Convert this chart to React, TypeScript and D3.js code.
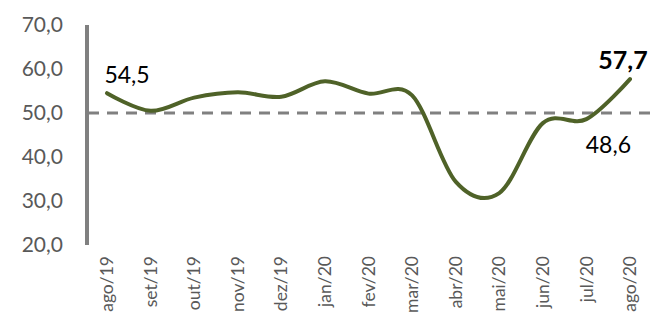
import { useRef, useEffect } from 'react';
import * as d3 from 'd3';

const LINE_COLOR = '#4F6228';
const AXIS_COLOR = '#808080';
const TEXT_COLOR = '#595959';
const FONT = 'Lato, "Open Sans", sans-serif';

const months = [
  'ago/19', 'set/19', 'out/19', 'nov/19', 'dez/19', 'jan/20', 'fev/20',
  'mar/20', 'abr/20', 'mai/20', 'jun/20', 'jul/20', 'ago/20',
];
const values = [54.5, 50.5, 53.5, 54.7, 53.7, 57.2, 54.4, 54.0, 34.4, 31.8, 47.7, 48.6, 57.7];
const yTicks = [20, 30, 40, 50, 60, 70];
const refValue = 50;

const W = 662;
const H = 312;

const fmt = (v: number) => d3.format('.1f')(v).replace('.', ',');

const App = () => {
  const svgRef = useRef<SVGSVGElement>(null);

  useEffect(() => {
    const svg = d3.select(svgRef.current);
    svg.selectAll('*').remove();

    const x = d3.scalePoint().domain(months).range([107, 630]);
    const y = d3.scaleLinear().domain([20, 70]).range([245, 25]);

    // y tick labels
    svg
      .append('g')
      .selectAll('text')
      .data(yTicks)
      .join('text')
      .attr('x', 63)
      .attr('y', (d) => y(d))
      .attr('dy', '0.35em')
      .attr('text-anchor', 'end')
      .attr('font-family', FONT)
      .attr('font-size', 21)
      .attr('fill', TEXT_COLOR)
      .text((d) => fmt(d));

    // reference line at 50
    svg
      .append('line')
      .attr('x1', 88)
      .attr('x2', 651)
      .attr('y1', y(refValue))
      .attr('y2', y(refValue))
      .attr('stroke', AXIS_COLOR)
      .attr('stroke-width', 3)
      .attr('stroke-dasharray', '11,8');

    // y axis line
    svg
      .append('line')
      .attr('x1', 87)
      .attr('x2', 87)
      .attr('y1', y(70))
      .attr('y2', y(20))
      .attr('stroke', AXIS_COLOR)
      .attr('stroke-width', 4);

    // x labels
    svg
      .append('g')
      .selectAll('text')
      .data(months)
      .join('text')
      .attr('transform', (d) => `translate(${x(d)},256) rotate(-90)`)
      .attr('dy', '0.35em')
      .attr('text-anchor', 'end')
      .attr('font-family', FONT)
      .attr('font-size', 17.5)
      .attr('fill', TEXT_COLOR)
      .text((d) => d);

    // line
    const line = d3
      .line<number>()
      .x((_, i) => x(months[i]) as number)
      .y((d) => y(d))
      .curve(d3.curveCardinal.tension(0));

    svg
      .append('path')
      .datum(values)
      .attr('d', line)
      .attr('fill', 'none')
      .attr('stroke', LINE_COLOR)
      .attr('stroke-width', 4)
      .attr('stroke-linecap', 'round');

    // data labels
    const last = values.length - 1;
    const labels = [
      { i: 0, dx: 20, dy: -10, bold: false, size: 23 },
      { i: last - 1, dx: 22, dy: 34, bold: false, size: 23 },
      { i: last, dx: -7, dy: -10, bold: true, size: 25 },
    ];
    svg
      .append('g')
      .selectAll('text')
      .data(labels)
      .join('text')
      .attr('x', (d) => (x(months[d.i]) as number) + d.dx)
      .attr('y', (d) => y(values[d.i]) + d.dy)
      .attr('text-anchor', 'middle')
      .attr('font-family', FONT)
      .attr('font-size', (d) => d.size)
      .attr('font-weight', (d) => (d.bold ? 700 : 400))
      .attr('fill', '#000')
      .text((d) => fmt(values[d.i]));
  }, []);

  return (
    <svg
      ref={svgRef}
      width={W}
      height={H}
      style={{ position: 'absolute', left: 0, top: 0, background: '#fff' }}
    />
  );
};

export default App;
